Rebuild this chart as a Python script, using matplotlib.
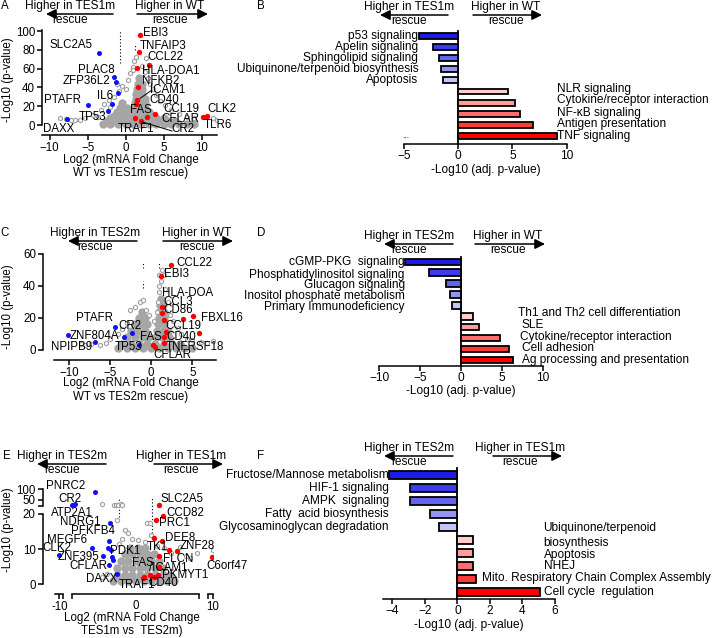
import numpy as np
import matplotlib.pyplot as plt
from matplotlib.patches import FancyArrowPatch
from matplotlib.transforms import blended_transform_factory

W, H = 714, 638
plt.rcParams['font.family'] = ['Liberation Sans', 'DejaVu Sans']
plt.rcParams['font.size'] = 8.3
plt.rcParams['axes.linewidth'] = 1.1

# ---------------- data ----------------
# A: volcano WT vs TES1m rescue
a_cloud_x = [-3, -2, -1, 0, 1, 2, 3, 4, 5, 6, 7, 8, 9,
             -2.5, -1.5, -0.5, 0.5, 1.5, 2.5, 3.5, 4.5, 5.5, 6.5,
             -2, -1, 0, 1, 2, 3, 4, 5,
             -1.5, -0.5, 0.5, 1.5, 2.5, 3.5,
             -1.2, -0.3, 0.7, 1.5, 2.3, 3.0,
             -0.8, 0.2, 1.1, 1.8, 2.5,
             -0.5, 1.2, 1.9, 2.5,
             1.3, 2.0, 2.6,
             1.4, 2.1, 1.5, 2.2, 1.6, 2.2, 1.7]
a_cloud_y = [1, 1, 1, 1, 1, 1, 1, 1, 1, 1, 1, 1, 1,
             4, 4, 4, 4, 4, 4, 4, 4, 4, 4,
             7, 7, 7, 7, 7, 7, 7, 7,
             10, 10, 10, 10, 10, 10,
             14, 14, 14, 14, 14, 14,
             18, 18, 18, 18, 18,
             23, 23, 23, 23,
             28, 28, 28,
             33, 33, 38, 38, 44, 44, 50]
a_open_x = [-8.6, -7.9, -7.2, -6.6, -6.0, -5.4, -4.3, -3.6, -3.3, -2.8, -2.2, -2.0,
            -1.5, -1.2, -0.9, -0.5, 0.0, 0.3, 0.6, 0.9, 1.0, 1.1, 1.3, 2.2, 2.5,
            2.7, 2.9, 3.2, 3.6, 4.0, 4.5, 5.2, 6.0, 7.0, 8.0, 9.0, 11.5, 12.0]
a_open_y = [7, 6.5, 5.5, 5, 5.5, 7, 11, 9, 16, 22, 27, 19,
            30, 44, 36, 42, 38, 48, 55, 62, 58, 68, 72, 63, 56,
            71, 50, 44, 38, 32, 26, 21, 16, 12, 9, 7, 8, 5]
a_blue_x = [-3.5, -1.6, -1.25, -1.0, -1.8, -5.0, -2.3, -7.7]
a_blue_y = [77, 51, 46, 34, 22, 21, 15, 6]
a_red_x = [1.9, 1.8, 3.0, 1.5, 1.6, 1.55, 1.4, 3.8, 1.25, 2.8, 2.0, 10.2, 10.7]
a_red_y = [96, 78, 64, 61, 40, 27, 22, 12, 8, 9, 4.3, 9, 10]

# C: volcano WT vs TES2m rescue
c_cloud_x = [-4, -3, -2, -1, 0, 1, 2, 3, 4, 5,
             -3.5, -2.5, -1.5, -0.5, 0.5, 1.5, 2.5, 3.5,
             -3, -2, -1, -0.3, 0.6, 1.3, 2.2,
             -2.5, -1.6, -0.8, 0.7, 1.4, 2.0,
             -2.0, -1.2, -0.5, 0.8, 1.5,
             -1.5, -0.8, 0.9, 1.5,
             -1.1, 1.0, 1.5,
             1.1, 1.4, 1.2]
c_cloud_y = [1, 1, 1, 1, 1, 1, 1, 1, 1, 1,
             4, 4, 4, 4, 4, 4, 4, 4,
             8, 8, 8, 8, 8, 8, 8,
             12, 12, 12, 12, 12, 12,
             16, 16, 16, 16, 16,
             20, 20, 20, 20,
             24, 24, 24,
             28, 28, 32]
c_open_x = [-8.5, -8.0, -7.3, -6.2, -5.5, -5.0, -4.0, -3.6, -3.0, -2.6, -2.0, -1.4,
            -1.0, -0.6, -0.3, 0.4, 0.7, 0.8, 0.9, 1.0, 1.2, 1.0, 1.3, 1.5, 1.7,
            2.0, 2.3, 2.7, 3.2, 3.6, 4.3, 5.0, 6.0, 6.8, 7.5]
c_open_y = [4, 3, 3.5, 3, 4.5, 7, 10, 13, 17, 25, 27, 30,
            31, 25, 22, 18, 24, 30, 36, 40, 43, 47, 50, 47, 38,
            30, 22, 18, 14, 10, 7, 6, 5, 4.5, 5.5]
c_blue_x = [-4.4, -10.1, -3.3, -2.3, -6.8, -1.5]
c_blue_y = [14.6, 9.4, 7.9, 10.8, 4.8, 3.1]
c_red_x = [2.4, 1.15, 1.35, 1.35, 5.05, 3.9, 1.55, 1.8, 5.85, 1.5, 1.56, 0.27, 0.45]
c_red_y = [53, 46.5, 27, 23.3, 21.2, 19.4, 18.7, 11, 10.8, 8.3, 4.6, 3.1, 2.0]

# E: volcano TES1m vs TES2m (broken y axis)
e_cloud_x = [-3, -2, -1, 0, 1, 2, 3, 4, 5,
             -2.5, -1.5, -0.5, 0.5, 1.5, 2.5, 3.5, 4.5,
             -2.5, -1.5, -0.5, 0.5, 1.5, 2.5, 3.5,
             -2, -1, 0, 1, 2, 3,
             -1.5, -0.5, 0.5, 1.5, 2.3,
             -0.8, 0.3, 1.2]
e_cloud_y = [0.8, 0.8, 0.8, 0.8, 0.8, 0.8, 0.8, 0.8, 0.8,
             2.5, 2.5, 2.5, 2.5, 2.5, 2.5, 2.5, 2.5,
             4.5, 4.5, 4.5, 4.5, 4.5, 4.5, 4.5,
             6.5, 6.5, 6.5, 6.5, 6.5, 6.5,
             8.5, 8.5, 8.5, 8.5, 8.5,
             10.3, 10.3, 10.3]
e_open_x = [-4.5, -2.9, -2.6, -2.3, -2.0, -1.8, -2.5, -1.4, -1.0, -1.8, -0.5, -2.2,
            0.2, 1.4, 1.8, 2.0, 1.2, 2.8, 3.6, 4.6, 5.7, 6.5, 7.1, 7.9, 10.1, -3.8, -4.5]
e_open_y = [30, 26, 28, 27, 29, 25, 18.3, 15.4, 14.5, 13, 13, 11.5,
            12.5, 17.5, 17.5, 14, 12, 11, 10.3, 9, 10.7, 8, 7.5, 8.8, 9.7, 3, 2]
e_blue_x = [-5.35, -7.9, -8.3, -3.4, -3.5, -5.8, -3.6, -3.3, -10.0, -4.27, -3.1, -3.05, -3.5, -2.5]
e_blue_y = [85, 29, 24, 17.3, 12.3, 10.2, 10.2, 9.7, 8.3, 8.0, 7.8, 6.9, 5.5, 2.8]
e_red_x = [3.05, 3.5, 2.6, 2.4, 3.35, 4.27, 5.4, 9.9, 2.96, 2.96, 0.96, 1.1, 1.83, 2.4, 2.85]
e_red_y = [24, 19.5, 18.3, 13.1, 12.4, 9.7, 9.5, 7.7, 8.0, 4.8, 1.7, 2.2, 2.6, 2.2, 2.5]

# B, D, F: pathway enrichment bars
b_terms = ['p53 signaling', 'Apelin signaling', 'Sphingolipid signaling',
           'Ubiquinone/terpenoid biosynthesis', 'Apoptosis', 'NLR signaling',
           'Cytokine/receptor interaction', 'NF-\u03baB signaling', 'Antigen presentation',
           'TNF signaling']
b_vals = [-3.6, -2.3, -1.8, -1.6, -1.4, 4.6, 5.2, 5.7, 6.9, 9.1]

d_terms = ['cGMP-PKG  signaling', 'Phosphatidylinositol signaling', 'Glucagon signaling',
           'Inositol phosphate metabolism', 'Primary Immunodeficiency',
           'Th1 and Th2 cell differentiation', 'SLE', 'Cytokine/receptor interaction',
           'Cell adhesion', 'Ag processing and presentation']
d_vals = [-6.8, -3.9, -1.8, -1.3, -1.15, 1.45, 2.2, 4.8, 5.9, 6.35]

f_terms = ['Fructose/Mannose metabolism', 'HIF-1 signaling', 'AMPK  signaling',
           'Fatty  acid biosynthesis', 'Glycosaminoglycan degradation',
           'Ubiquinone/terpenoid\nbiosynthesis', 'Apoptosis', 'NHEJ',
           'Mito. Respiratory Chain Complex Assembly', 'Cell cycle  regulation']
f_vals = [-4.2, -2.9, -2.9, -1.65, -1.15, 0.95, 0.95, 0.95, 1.15, 5.1]

bar_colors = ['#1c1ce8', '#3c3cec', '#6464f0', '#9494f2', '#c4c4f7',
              '#ffcccc', '#ff9c9c', '#ff6c6c', '#ff3838', '#ff0000']

fig = plt.figure(figsize=(W / 100, H / 100), dpi=100)


def add_ax(left, top, right, bottom):
    return fig.add_axes([left / W, 1 - bottom / H, (right - left) / W, (bottom - top) / H])


def ftext(x, y, s, **kw):
    kw.setdefault('ha', 'center')
    kw.setdefault('va', 'center')
    fig.text(x / W, 1 - y / H, s, **kw)


def farrow(x0, x1, y):
    fig.add_artist(FancyArrowPatch((x0 / W, 1 - y / H), (x1 / W, 1 - y / H),
                                   transform=fig.transFigure, color='k', lw=1.1,
                                   arrowstyle='-|>,head_length=0.6,head_width=0.3',
                                   mutation_scale=10, shrinkA=0, shrinkB=0))


def header(xl, xr, y, left_txt, right_txt, arr_l, arr_r):
    ftext(xl, y, left_txt, fontsize=8.6)
    ftext(xl, y + 14, 'rescue', fontsize=8.6)
    farrow(arr_l[0], arr_l[1], y + 8)
    ftext(xr, y, right_txt, fontsize=8.6)
    ftext(xr, y + 14, 'rescue', fontsize=8.6)
    farrow(arr_r[0], arr_r[1], y + 8)


def volcano(ax, cx, cy, ox, oy, bx, by, rx, ry):
    ax.scatter(cx, cy, s=36, c='#a6a6a6', lw=0, zorder=2)
    ax.scatter(ox, oy, s=11, marker='h', facecolors='white', edgecolors='#a0a0a0', lw=0.8, zorder=3)
    ax.scatter(bx, by, s=13, c='#1010ff', lw=0, zorder=4)
    ax.scatter(rx, ry, s=15, c='#ff0000', lw=0, zorder=4)
    for s in ['top', 'right']:
        ax.spines[s].set_visible(False)
    ax.tick_params(direction='out', length=3.5, width=1.1, labelsize=8.3, pad=1.5)
    ax.patch.set_alpha(0)


def put_labels(ax, labs):
    for s, x, y, ha in labs:
        ax.text(x, y, s, ha=ha, va='center', fontsize=8.3, clip_on=False, zorder=6)


def dotted(ax, x, y0, y1):
    ax.plot([x, x], [y0, y1], color='k', lw=0.8, ls=(0, (1, 2)), zorder=1)


def enrich(ax, terms, vals, xlim, ticks, ylim, height, label_x, label_dy):
    ypos = np.arange(len(vals))
    ax.barh(ypos, vals, height=height, color=bar_colors, edgecolor='k', lw=1.3, zorder=3)
    ax.set_xlim(*xlim)
    ax.set_ylim(*ylim)
    ax.set_xticks(ticks)
    ax.spines['left'].set_position(('data', 0))
    ax.spines['left'].set_linewidth(1.3)
    for s in ['top', 'right']:
        ax.spines[s].set_visible(False)
    ax.tick_params(axis='y', left=False, labelleft=False)
    ax.tick_params(axis='x', direction='out', length=3.5, width=1.1, labelsize=8.6, pad=1)
    for i, (t, v) in enumerate(zip(terms, vals)):
        ax.text(label_x[i], i + label_dy[i], t, ha='right' if v < 0 else 'left', va='center',
                fontsize=8.6, clip_on=False, linespacing=1.3)
    ax.set_xlabel('-Log10 (adj. p-value)', fontsize=8.6, labelpad=1)
    ax.patch.set_alpha(0)


# ---------------- A ----------------
ax = add_ax(42, 28, 217, 135)
volcano(ax, a_cloud_x, a_cloud_y, a_open_x, a_open_y, a_blue_x, a_blue_y, a_red_x, a_red_y)
ax.set_xlim(-11.0, 12.0)
ax.set_ylim(-10.6, 103.2)
ax.spines['left'].set_bounds(0, 101)
ax.set_yticks([0, 20, 40, 60, 80, 100])
ax.set_xticks([-10, -5, 0, 5, 10])
dotted(ax, -0.75, 66, 101)
dotted(ax, 1.25, 80, 85)
ax.plot([1.9, 3.45], [28.4, 37.2], color='k', lw=0.7, zorder=5)
ax.plot([2.1, 6.1], [3.5, -6.4], color='k', lw=0.7, zorder=5, clip_on=False)
put_labels(ax, [('EBI3', 2.3, 98, 'left'), ('TNFAIP3', 1.8, 84, 'left'), ('CCL22', 2.8, 72, 'left'),
                ('HLA-DOA1', 2.1, 57.7, 'left'), ('NFKB2', 2.1, 47, 'left'), ('ICAM1', 3.2, 37, 'left'),
                ('CD40', 3.1, 26.6, 'left'), ('FAS', 0.6, 16, 'left'), ('CCL19', 4.9, 17, 'left'),
                ('CFLAR', 4.7, 6.5, 'left'), ('CR2', 6.0, -4, 'left'), ('TRAF1', -1.0, -4, 'left'),
                ('CLK2', 10.7, 17, 'left'), ('TLR6', 10.3, 0, 'left'), ('DAXX', -10.9, -4, 'left'),
                ('SLC2A5', -4.3, 85, 'right'), ('PLAC8', -1.4, 59, 'right'), ('ZFP36L2', -2.0, 47, 'right'),
                ('IL6', -1.6, 31, 'right'), ('PTAFR', -5.9, 27, 'right'), ('TP53', -2.6, 9, 'right')])
ftext(5, 6, 'A', fontsize=8.3)
header(70, 170, 6, 'Higher in TES1m', 'Higher in WT', (113, 46), (137, 208))
ftext(8, 80, '-Log10 (p-value)', rotation=90)
ftext(131, 160, 'Log2 (mRNA Fold Change')
ftext(131, 173, 'WT vs TES1m rescue)')

# ---------------- B ----------------
ax = add_ax(404, 31, 566.7, 144)
enrich(ax, b_terms, b_vals, (-5, 10), [-5, 0, 5, 10], (9.71, -0.42), 0.52,
       [-3.68] * 5 + [9.15] * 5, [0, 0, 0, 0, 0, -0.2, -0.25, -0.1, -0.1, -0.05])
ftext(261, 6, 'B', fontsize=8.3)
ftext(406, 136, '...', fontsize=6)
header(409, 506, 7, 'Higher in TES1m', 'Higher in WT', (448, 380), (473, 542))

# ---------------- C ----------------
ax = add_ax(43, 252, 216, 360)
volcano(ax, c_cloud_x, c_cloud_y, c_open_x, c_open_y, c_blue_x, c_blue_y, c_red_x, c_red_y)
ax.set_xlim(-13.16, 7.88)
ax.set_ylim(-6.25, 61.25)
ax.spines['left'].set_bounds(0, 60)
ax.spines['bottom'].set_bounds(-11.8, 7.88)
ax.set_yticks([0, 20, 40, 60])
ax.set_xticks([-10, -5, 0, 5])
dotted(ax, -0.96, 51, 55)
dotted(ax, -0.96, 39, 43)
dotted(ax, 1.0, 51, 55)
put_labels(ax, [('CCL22', 3.1, 54.6, 'left'), ('EBI3', 1.5, 47.5, 'left'), ('HLA-DOA', 1.35, 35.8, 'left'),
                ('CCL3', 1.5, 30, 'left'), ('CD86', 1.5, 25, 'left'), ('FBXL16', 6.1, 19.8, 'left'),
                ('CCL19', 1.76, 15, 'left'), ('CD40', 1.9, 8.3, 'left'), ('TNFRSF18', 1.76, 1.7, 'left'),
                ('CFLAR', 0.26, -3.3, 'left'), ('FAS', -1.36, 7.9, 'left'), ('PTAFR', -4.7, 19.8, 'right'),
                ('CR2', -4.0, 15, 'left'), ('ZNF804A', -9.9, 8.75, 'left'), ('NPIPB9', -12.2, 2, 'left'),
                ('TP53', -4.4, 2, 'left')])
ftext(5, 233, 'C', fontsize=8.3)
header(95, 197, 233, 'Higher in TES2m', 'Higher in WT', (137, 68), (163, 233))
ftext(8, 307, '-Log10 (p-value)', rotation=90)
ftext(131, 383, 'Log2 (mRNA Fold Change')
ftext(131, 397, 'WT vs TES2m rescue)')

# ---------------- D ----------------
ax = add_ax(379.3, 256.7, 542.7, 365.7)
enrich(ax, d_terms, d_vals, (-10, 10), [-10, -5, 0, 5, 10], (9.52, -0.46), 0.58,
       [-6.9] * 5 + [6.98, 7.4, 7.27, 7.5, 7.5], [0.05, 0.2, 0.1, 0.12, 0.1, -0.3, -0.2, -0.1, -0.07, 0])
ftext(261, 233, 'D', fontsize=8.3)
header(409, 508, 236, 'Higher in TES2m', 'Higher in WT', (453, 384), (475, 545))

# ---------------- E ----------------


def e_fwd(y):
    y = np.asarray(y, float)
    return np.where(y <= 20, y, np.where(y <= 22, 20 + (y - 20) * 1.135, 22.27 + (y - 22) * 0.0608))


def e_inv(v):
    v = np.asarray(v, float)
    return np.where(v <= 20, v, np.where(v <= 22.27, 20 + (v - 20) / 1.135, 22 + (v - 22.27) / 0.0608))


ax = add_ax(42.7, 487.7, 213.3, 594)
ax.set_yscale('function', functions=(e_fwd, e_inv))
volcano(ax, e_cloud_x, e_cloud_y, e_open_x, e_open_y, e_blue_x, e_blue_y, e_red_x, e_red_y)
ax.set_xlim(-12.18, 10.09)
ax.set_ylim(-2.76, 107)
ax.spines['left'].set_visible(False)
ax.spines['bottom'].set_visible(False)
ty = blended_transform_factory(ax.transAxes, ax.transData)
tx = blended_transform_factory(ax.transData, ax.transAxes)
for y0, y1 in [(0, 20), (22, 101)]:
    ax.plot([0, 0], [y0, y1], color='k', lw=1.1, transform=ty, clip_on=False)
for x0, x1 in [(-10.6, -9.5), (-8.3, 8.2), (9.4, 10.09)]:
    ax.plot([x0, x1], [0, 0], color='k', lw=1.1, transform=tx, clip_on=False)
ax.set_yticks([0, 10, 20, 22, 50, 100])
ax.set_yticklabels(['0', '10', '20', '', '50', '100'])
ax.yaxis.set_minor_locator(plt.NullLocator())
ax.set_xticks([-10, -9.5, -8.3, 8.2, 9.4, 10])
ax.set_xticklabels(['-10', '', '', '', '', '10'])
ax.text(0, -0.055, '0', transform=tx, ha='center', va='top', fontsize=8.3)
dotted(ax, -2.2, 19, 60)
dotted(ax, 2.05, 14.6, 60)
put_labels(ax, [('PNRC2', -6.65, 115, 'right'), ('CR2', -7.1, 55, 'right'), ('ATP2A1', -5.65, 20.3, 'right'),
                ('NDRG1', -4.57, 17.8, 'right'), ('PFKFB4', -2.74, 15.1, 'right'), ('MEGF6', -6.35, 12.6, 'right'),
                ('CLK2', -8.4, 10.2, 'right'), ('ZNF395', -4.8, 7.7, 'right'), ('CFLAR', -3.8, 5.3, 'right'),
                ('DAXX', -6.5, 1.5, 'left'), ('PDK1', -3.4, 9.5, 'left'), ('FAS', -0.56, 6, 'left'),
                ('/ICAM1', 1.7, 4.5, 'left'), ('PKMYT1', 3.35, 2.6, 'left'), ('CD40', 1.6, 0.3, 'left'),
                ('TRAF1', -2.3, -0.1, 'left'), ('SLC2A5', 3.26, 52, 'left'), ('CCD82', 4.0, 20.3, 'left'),
                ('PRC1', 3.04, 17.3, 'left'), ('DEE8', 3.8, 13.2, 'left'), ('TK1', 1.4, 10.5, 'left'),
                ('ZNF28', 5.65, 10.9, 'left'), ('FLCN', 3.56, 7.1, 'left'), ('C6orf47', 9.2, 5.2, 'left')])
ftext(7, 456, 'E', fontsize=8.3)
header(62, 181, 456, 'Higher in TES2m', 'Higher in TES1m', (106, 37), (154, 223))
ftext(8, 530, '-Log10 (p-value)', rotation=90)
ftext(132, 618, 'Log2 (mRNA Fold Change')
ftext(132, 631, 'TES1m vs  TES2m)')

# ---------------- F ----------------
ax = add_ax(383.3, 468.3, 555, 599)
enrich(ax, f_terms, f_vals, (-4.55, 6), [-4, -2, 0, 2, 4, 6], (9.52, -0.51), 0.64,
       [-4.2] * 5 + [5.3, 5.3, 5.3, 1.5, 5.3], [0, 0, 0, 0, 0, -0.36, 0.14, 0, -0.1, 0])
ftext(261, 456, 'F', fontsize=8.3)
header(409, 520, 448, 'Higher in TES2m', 'Higher in TES1m', (453, 384), (493, 562))

fig.savefig('out.png', dpi=100)
